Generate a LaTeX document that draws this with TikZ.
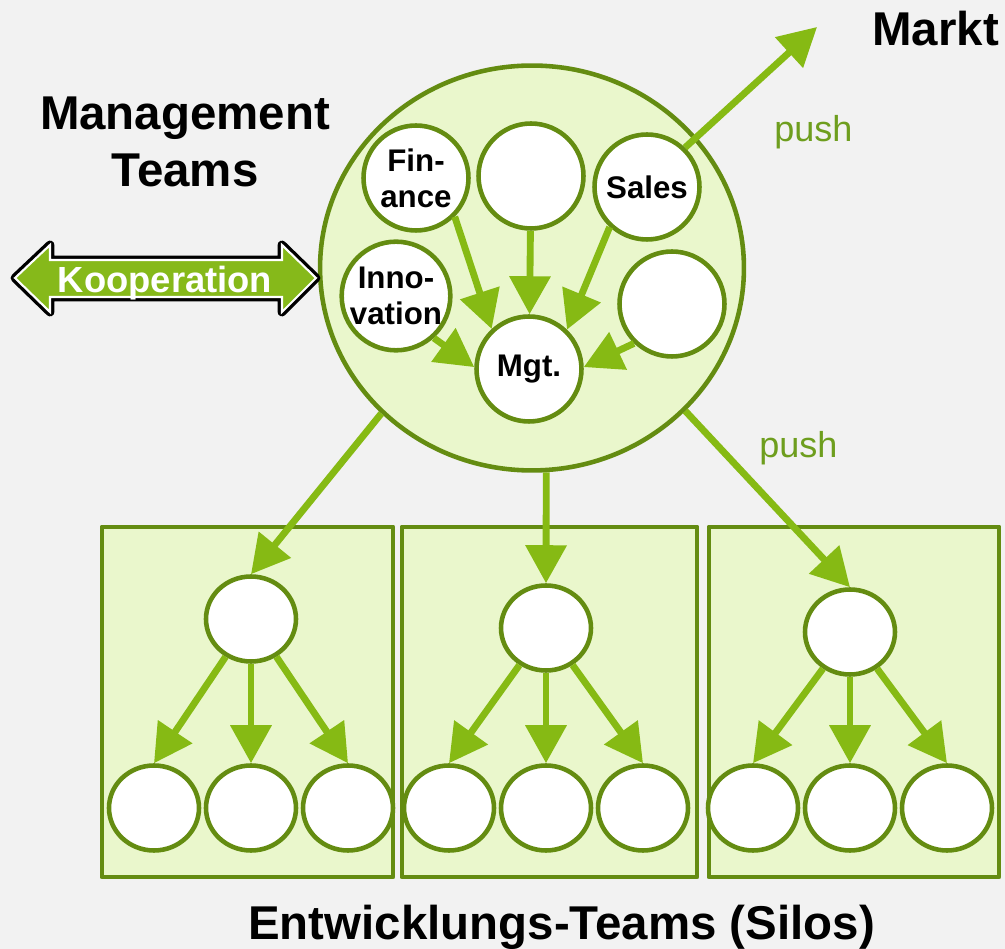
\documentclass[tikz,border=0pt]{standalone}
\usepackage{fontspec}
\setmainfont{Liberation Sans}
\usetikzlibrary{arrows.meta,shapes.geometric,positioning}
\definecolor{silogreen}{HTML}{EAF7CC}
\definecolor{rimgreen}{HTML}{648C11}
\definecolor{arrowgreen}{HTML}{86BA14}
\definecolor{koopgreen}{HTML}{86B91A}
\definecolor{pushgreen}{HTML}{6E9E1E}
\definecolor{backgray}{HTML}{F2F2F2}

\begin{document}
\begin{tikzpicture} [x=0.02cm,y=-0.02cm,{team/.style={circle,draw=rimgreen,fill=white,line width=2.6pt,minimum size=2.1cm,inner sep=0pt,align=center,font=\bfseries\fontsize{17.8}{20.5}\selectfont}},{member/.style={ellipse,draw=rimgreen,fill=white,line width=2.6pt,minimum width=1.8cm,minimum height=1.7cm,inner sep=0pt}},{flow/.style={draw=arrowgreen,line width=3.9pt,-{Triangle[length=0.76cm,width=0.8cm]}}},{silo/.style={draw=rimgreen,fill=silogreen,line width=2.8pt,line join=round}},{title/.style={inner sep=0pt,align=center,font=\bfseries\fontsize{27}{32}\selectfont}},{pushlabel/.style={inner sep=0pt,color=pushgreen,font=\fontsize{20.5}{24}\selectfont}}]
	%%page
	\useasboundingbox (0,0) rectangle (1005,949);
	\fill [backgray] (0,0) rectangle (1005,949);

	%%silos
	\draw [silo] (102,527) rectangle (393,877);
	\draw [silo] (402,527) rectangle (697,877);
	\draw [silo] (709,527) rectangle (999,877);

	%%management circle
	\node [ellipse,draw=rimgreen,fill=silogreen,line width=2.6pt,minimum width=8.48cm,minimum height=8.1cm] (mgmt) at (532,268) {};
	\node [team] (finance) at (416,178) {Fin-\\ance};
	\node [team] (topteam) at (531,176) {};
	\node [team] (sales) at (647,187) {Sales};
	\node [team] (innovation) at (396,296) {Inno-\\vation};
	\node [team] (rightteam) at (672,304) {};
	\node [team] (mgt) at (529,369) {\raisebox{-4pt}{Mgt.}};

	\draw [flow] (finance.-45) -- (mgt.133);
	\draw [flow] (topteam) -- (mgt);
	\draw [flow] (sales.-133) -- (mgt.46);
	\draw [flow] (innovation.-48) -- (mgt.178);
	\draw [flow] (rightteam.-134) -- (mgt.2);

	%%push to market
	\coordinate (markttip) at (817,27);
	\draw [flow] (sales.46) -- (markttip);

	%%teams
	\foreach \i/\x/\y in {1/251/619,2/546/628,3/850/632}{
		\node [member] (top\i) at (\x,\y) {};
		\node [member] (left\i) at (\x-97,808) {};
		\node [member] (mid\i) at (\x,808) {};
		\node [member] (right\i) at (\x+97,808) {};
		\draw [flow] (top\i) -- (left\i.north);
		\draw [flow] (top\i) -- (mid\i);
		\draw [flow] (top\i) -- (right\i.north);
	}
	\draw [flow] (mgmt.224) -- (top1.north);
	\draw [flow] (mgmt.-86) -- (top2.north);
	\draw [flow] (mgmt.-43) -- (top3.north);

	%%cooperation
	\draw [preaction={draw=black,line width=5pt,line join=round},draw=white,line width=1.2pt,fill=koopgreen] (15,278) -- (50,245) -- (50,260) -- (282,260) -- (282,245) -- (316,278) -- (282,312) -- (282,297) -- (50,297) -- (50,312) -- cycle;
	\node [anchor=base,inner sep=0pt,text=white,font=\bfseries\fontsize{20.7}{24}\selectfont] (koop) at (165,293) {Kooperation};

	%%labels
	\node [title] (mgmtlabel) at (185,142) {Management\\Teams};
	\node [title,anchor=base west] (markt) at (872,46) {Markt};
	\node [pushlabel,anchor=base west] (pushmarkt) at (774,142) {push};
	\node [pushlabel,anchor=base west] (pushsilo) at (759,458) {push};
	\node [title,anchor=base west] (silolabel) at (248,939) {Entwicklungs-Teams (Silos)};
\end{tikzpicture}
\end{document}
